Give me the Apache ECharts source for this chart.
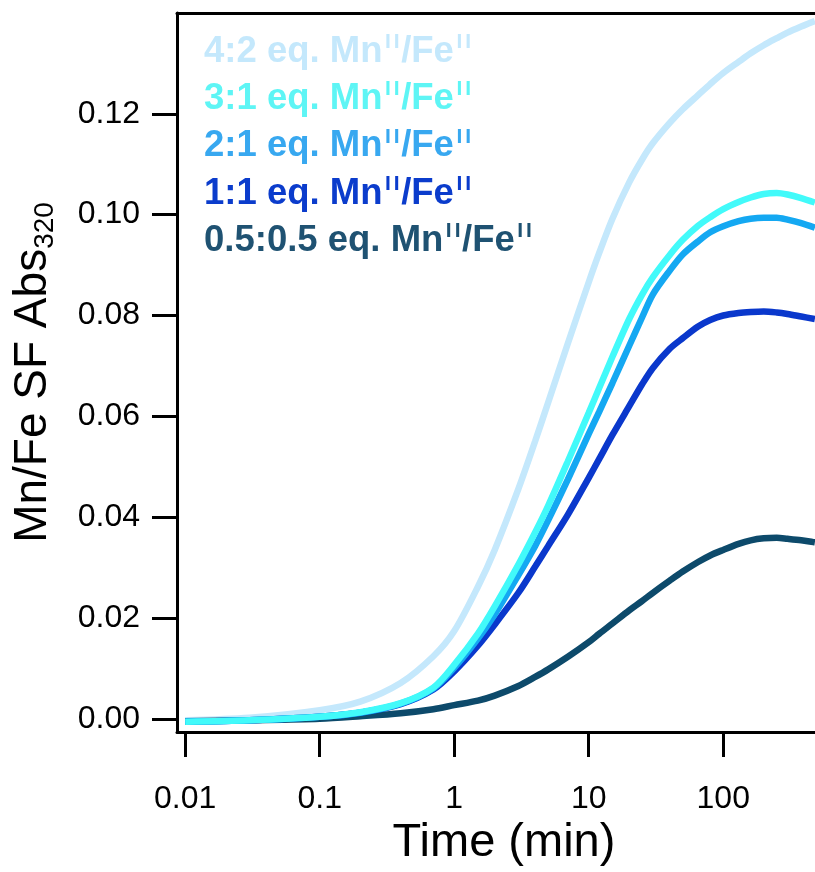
<!DOCTYPE html>
<html>
<head>
<meta charset="utf-8">
<script src="https://cdn.jsdelivr.net/npm/echarts@6/dist/echarts.min.js"></script>
<style>html,body{margin:0;padding:0;background:#fff;}#c{width:815px;height:872px;}</style>
</head>
<body>
<div id="c"></div>
<script>
// time (min)
const times   = [0.01, 0.03, 0.1, 0.2, 0.4, 0.7, 1, 1.5, 2, 3, 4, 5, 7, 10, 12, 15, 20, 25, 30, 40, 50, 65, 80, 100, 130, 160, 200, 250, 300, 380, 480];
// Mn/Fe SF Abs320 for each condition
const abs42   = [-0.0003, 0.0002, 0.0017, 0.0034, 0.0071, 0.0124, 0.0174, 0.0262, 0.0335, 0.0456, 0.0551, 0.0628, 0.0745, 0.0866, 0.0925, 0.0992, 0.1064, 0.1110, 0.1142, 0.1182, 0.1209, 0.1237, 0.1259, 0.1281, 0.1303, 0.1320, 0.1336, 0.1350, 0.1361, 0.1373, 0.1384];
const abs31   = [-0.0006, -0.0003, 0.0004, 0.0013, 0.0031, 0.0062, 0.0107, 0.0169, 0.0223, 0.0306, 0.0370, 0.0423, 0.0511, 0.0607, 0.0657, 0.0718, 0.0793, 0.0842, 0.0876, 0.0920, 0.0950, 0.0978, 0.0995, 0.1011, 0.1025, 0.1034, 0.1041, 0.1043, 0.1040, 0.1033, 0.1024];
const abs21   = [-0.0006, -0.0003, 0.0004, 0.0012, 0.0030, 0.0060, 0.0101, 0.0159, 0.0207, 0.0285, 0.0343, 0.0394, 0.0475, 0.0565, 0.0610, 0.0666, 0.0740, 0.0797, 0.0842, 0.0889, 0.0921, 0.0947, 0.0965, 0.0977, 0.0987, 0.0992, 0.0994, 0.0994, 0.0990, 0.0983, 0.0974];
const abs11   = [-0.0006, -0.0003, 0.0004, 0.0012, 0.0029, 0.0058, 0.0094, 0.0145, 0.0187, 0.0250, 0.0302, 0.0343, 0.0405, 0.0478, 0.0516, 0.0563, 0.0620, 0.0664, 0.0696, 0.0734, 0.0755, 0.0778, 0.0791, 0.0800, 0.0805, 0.0807, 0.0808, 0.0806, 0.0803, 0.0798, 0.0793];
const abs0505 = [-0.0005, -0.0003, 0.0000, 0.0005, 0.0011, 0.0019, 0.0027, 0.0036, 0.0046, 0.0065, 0.0083, 0.0098, 0.0123, 0.0152, 0.0169, 0.0189, 0.0215, 0.0234, 0.0250, 0.0274, 0.0292, 0.0311, 0.0324, 0.0335, 0.0347, 0.0354, 0.0358, 0.0359, 0.0357, 0.0354, 0.0350];

const seriesNames = ['4:2', '3:1', '2:1', '1:1', '0.5:0.5'];
const seriesColors = ['#c4e8fc', '#42fafa', '#14a8f2', '#0a38cc', '#0d4a6b'];
const textColors = ['#c4e8fc', '#5ef5f5', '#38a8f0', '#0b3ccc', '#1f5272'];
const seriesValues = [abs42, abs31, abs21, abs11, abs0505];
const drawOrder = [0, 4, 3, 2, 1];

const xTicks = [0.01, 0.1, 1, 10, 100];
const xTickLabels = ['0.01', '0.1', '1', '10', '100'];
const yTicks = [0, 0.02, 0.04, 0.06, 0.08, 0.10, 0.12];
const yTickLabels = ['0.00', '0.02', '0.04', '0.06', '0.08', '0.10', '0.12'];

const FONT = '"Liberation Sans", Arial, Helvetica, sans-serif';
const chart = echarts.init(document.getElementById('c'), null, {renderer: 'canvas'});

const series = drawOrder.map(i => ({
  name: seriesNames[i],
  type: 'line',
  smooth: 0.3,
  showSymbol: false,
  symbol: 'none',
  clip: true,
  color: seriesColors[i],
  lineStyle: {width: 6.5, color: seriesColors[i]},
  data: times.map((t, k) => [t, seriesValues[i][k]]),
  z: 2
}));

const option = {
  animation: false,
  backgroundColor: '#fff',
  grid: {left: 177, top: 13, right: 0, bottom: 139, containLabel: false},
  legend: {
    orient: 'vertical',
    left: 194,
    top: 27,
    itemWidth: 0,
    itemHeight: 0,
    icon: 'none',
    itemGap: 8.7,
    selectedMode: false,
    data: seriesNames.map((n, i) => ({name: n, textStyle: {color: textColors[i]}})),
    formatter: name => '{b|' + name + ' eq. Mn}{p|}{s|I}{s|I}{b|/Fe}{p|}{s|I}{s|I}',
    textStyle: {
      fontFamily: FONT,
      fontWeight: 'bold',
      fontSize: 36.5,
      rich: {
        b: {fontFamily: FONT, fontWeight: 'bold', fontSize: 36.5, lineHeight: 40},
        p: {width: 1, lineHeight: 40},
        s: {fontFamily: FONT, fontWeight: 'bold', fontSize: 21, lineHeight: 26, verticalAlign: 'top', padding: [0, 1.5, 0, 1.5]}
      }
    }
  },
  xAxis: [{
    type: 'log',
    logBase: 10,
    min: 0.00869,
    max: 481,
    position: 'bottom',
    name: 'Time (min)',
    nameLocation: 'middle',
    nameGap: 88,
    nameTextStyle: {fontFamily: FONT, fontSize: 47, color: '#000', padding: [0, 0, 0, 16]},
    axisLine: {show: true, onZero: false, lineStyle: {color: '#000', width: 3}},
    axisTick: {show: true, inside: false, length: 25, customValues: xTicks, lineStyle: {color: '#000', width: 3}},
    minorTick: {show: false},
    axisLabel: {
      show: true, margin: 51, customValues: xTicks,
      fontFamily: FONT, fontSize: 32, color: '#000',
      formatter: v => { const k = xTicks.findIndex(t => Math.abs(Math.log10(t) - Math.log10(v)) < 1e-6); return k >= 0 ? xTickLabels[k] : ''; }
    },
    splitLine: {show: false}
  }, {
    type: 'log',
    logBase: 10,
    min: 0.00869,
    max: 481,
    position: 'top',
    axisLine: {show: true, onZero: false, lineStyle: {color: '#000', width: 3}},
    axisTick: {show: false},
    axisLabel: {show: false},
    splitLine: {show: false}
  }],
  yAxis: {
    type: 'value',
    min: -0.00262,
    max: 0.14,
    name: '{a|Mn/Fe SF Abs}{s|320}',
    nameLocation: 'middle',
    nameGap: 118,
    nameRotate: 90,
    nameTextStyle: {
      fontFamily: FONT, fontSize: 46, color: '#000',
      rich: {
        a: {fontFamily: FONT, fontSize: 46, color: '#000', lineHeight: 52},
        s: {fontFamily: FONT, fontSize: 28, color: '#000', lineHeight: 30, verticalAlign: 'bottom'}
      }
    },
    axisLine: {show: true, onZero: false, lineStyle: {color: '#000', width: 3}},
    axisTick: {show: true, inside: false, length: 25, customValues: yTicks, lineStyle: {color: '#000', width: 3}},
    axisLabel: {
      show: true, margin: 37, customValues: yTicks,
      fontFamily: FONT, fontSize: 32, color: '#000',
      formatter: v => { const k = yTicks.findIndex(t => Math.abs(t - v) < 1e-9); return k >= 0 ? yTickLabels[k] : ''; }
    },
    splitLine: {show: false}
  },
  series: series
};
chart.setOption(option);
</script>
</body>
</html>
